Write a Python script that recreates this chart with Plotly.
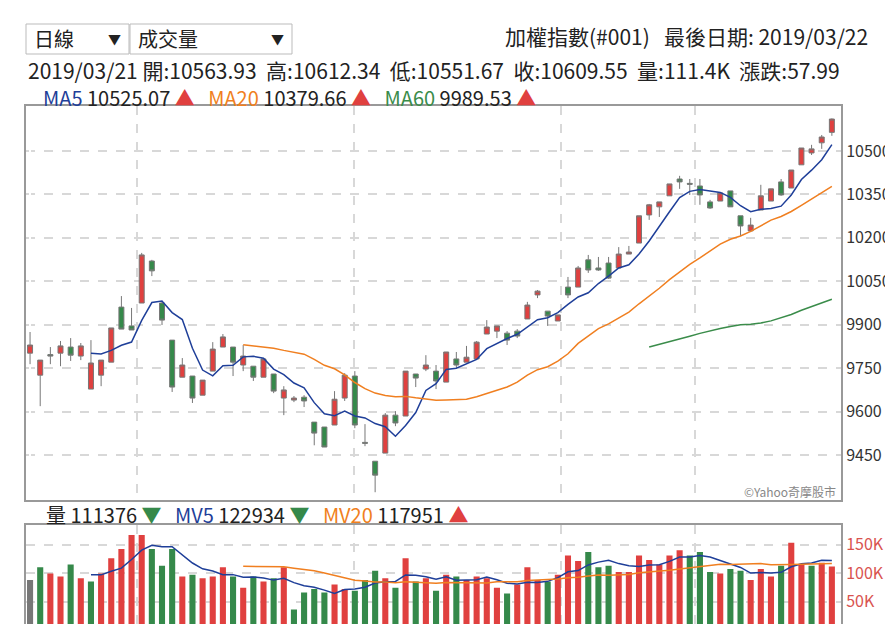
import plotly.graph_objects as go
import pandas as pd

opens = [9802,9726,9797,9802,9823,9792,9678,9726,9771,9961,9896,9975,10120,9975,9847,9719,9723,9657,9740,9823,
         9823,9761,9757,9719,9730,9647,9640,9650,9564,9547,9554,9647,9723,9494,9429,9457,9588,9585,9730,9747,
         9740,9702,9782,9771,9782,9868,9878,9871,9878,9920,10003,9947,9913,10030,10030,10124,10096,10113,10096,10144,
         10182,10279,10307,10345,10403,10388,10379,10324,10327,10362,10276,10224,10296,10327,10393,10372,10452,10493,10528,10564]
highs = [9875,9778,9823,9844,9854,9837,9847,9778,9889,9999,9958,10148,10124,9982,9847,9785,9723,9709,9840,9868,
         9823,9830,9757,9782,9730,9688,9654,9657,9564,9547,9671,9733,9740,9557,9429,9595,9602,9740,9730,9795,
         9761,9806,9806,9827,9844,9916,9896,9878,9885,9979,10020,9947,9934,10065,10103,10141,10134,10134,10168,10172,
         10276,10317,10324,10386,10414,10403,10403,10331,10355,10362,10276,10269,10383,10369,10403,10434,10510,10521,10555,10612]
lows = [9764,9619,9764,9757,9775,9778,9678,9688,9771,9885,9882,9975,10068,9899,9668,9719,9630,9657,9740,9823,
        9723,9740,9706,9719,9664,9588,9633,9616,9484,9478,9554,9637,9543,9481,9322,9457,9550,9585,9685,9740,
        9678,9702,9750,9771,9782,9868,9854,9830,9854,9920,9992,9896,9913,9992,10030,10079,10086,10058,10096,10144,
        10182,10262,10272,10345,10369,10348,10314,10300,10327,10307,10206,10220,10296,10327,10345,10372,10452,10486,10507,10552]
closes = [9830,9778,9792,9827,9795,9827,9768,9778,9889,9885,9882,10141,10086,9916,9685,9761,9647,9709,9816,9858,
          9771,9792,9719,9782,9671,9675,9647,9637,9526,9478,9643,9726,9554,9491,9381,9588,9561,9740,9716,9761,
          9706,9806,9761,9788,9840,9892,9896,9847,9861,9968,10016,9930,9934,10003,10096,10089,10089,10061,10144,10151,
          10276,10314,10324,10386,10393,10385,10348,10303,10355,10307,10241,10244,10345,10369,10348,10434,10510,10507,10548,10610]
volumes_k = [88,110,99,94,115,91,85,99,126,142,167,167,142,113,142,94,97,91,94,110,
             94,74,94,85,91,110,36,66,72,66,80,72,69,88,104,91,74,126,85,91,
             69,97,94,88,94,91,74,64,80,110,88,85,97,131,121,137,110,113,102,102,
             131,123,115,131,140,131,137,102,99,107,104,88,107,94,113,153,115,113,118,111.4]
# volume direction as shown: 0 = first day (no change), 1 = up, -1 = down
vol_dir = [0,-1,1,1,-1,1,-1,1,1,1,1,1,-1,-1,-1,1,-1,1,1,1,
           -1,1,-1,1,-1,1,-1,-1,-1,-1,1,1,-1,-1,-1,1,-1,1,-1,1,
           -1,1,-1,1,1,1,1,-1,1,1,1,-1,1,1,1,-1,-1,-1,1,1,
           1,1,1,1,1,-1,-1,-1,1,-1,-1,1,1,1,-1,1,1,-1,1,1]
month_bounds = [10.5, 31.9, 52.3, 65.5]
price_ticks = [9450, 9600, 9750, 9900, 10050, 10200, 10350, 10500]
vol_ticks = [50000, 100000, 150000]
vol_tick_text = ["50K", "100K", "150K"]

RED, GREEN = "#e0403f", "#35894a"
x = list(range(len(closes)))
cs = pd.Series(closes, dtype=float)
vs = pd.Series([v * 1000 for v in volumes_k])
ma5 = cs.rolling(5).mean(); ma5[:6] = None
ma20 = cs.rolling(20).mean(); ma20[:21] = None
ma60 = cs.rolling(60).mean(); ma60[:61] = None
mv5 = vs.rolling(5).mean(); mv5[:6] = None
mv20 = vs.rolling(20).mean(); mv20[:21] = None
vcol = [{0: "#777777", 1: RED, -1: GREEN}[d] for d in vol_dir]

fig = go.Figure()
fig.add_trace(go.Candlestick(x=x, open=opens, high=highs, low=lows, close=closes,
    increasing=dict(line=dict(color="#777777", width=1), fillcolor=RED),
    decreasing=dict(line=dict(color="#777777", width=1), fillcolor=GREEN),
    whiskerwidth=0, xaxis="x", yaxis="y", showlegend=False))
fig.add_trace(go.Scatter(x=x, y=ma5, mode="lines", line=dict(color="#1f3f99", width=1.5), xaxis="x", yaxis="y"))
fig.add_trace(go.Scatter(x=x, y=ma20, mode="lines", line=dict(color="#f07f20", width=1.5), xaxis="x", yaxis="y"))
fig.add_trace(go.Scatter(x=x, y=ma60, mode="lines", line=dict(color="#3a8c4a", width=1.5), xaxis="x", yaxis="y"))
fig.add_trace(go.Bar(x=x, y=vs, marker=dict(color=vcol, line=dict(width=0)), width=0.6, xaxis="x2", yaxis="y2"))
fig.add_trace(go.Scatter(x=x, y=mv5, mode="lines", line=dict(color="#1f3f99", width=1.5), xaxis="x2", yaxis="y2"))
fig.add_trace(go.Scatter(x=x, y=mv20, mode="lines", line=dict(color="#f07f20", width=1.5), xaxis="x2", yaxis="y2"))

xr = [-0.4, 79.9]
grid = dict(showgrid=True, gridcolor="#d8d8d8", griddash="dash", gridwidth=1.5)
fig.update_layout(
    width=893, height=624, showlegend=False, plot_bgcolor="white", paper_bgcolor="white",
    margin=dict(l=18, r=60, t=98, b=2, autoexpand=False),
    font=dict(family="Noto Sans CJK TC", size=17, color="#222"),
    xaxis=dict(domain=[0, 1], range=xr, tickvals=month_bounds, showticklabels=False, ticks="",
               rangeslider=dict(visible=False), showline=True, mirror=True, linecolor="#999", linewidth=2, **grid),
    yaxis=dict(domain=[0.248, 1], range=[9295, 10655], side="right", tickvals=price_ticks, tickformat="d",
               showline=True, mirror=True, linecolor="#999", linewidth=2, ticks="", zeroline=False,
               tickfont=dict(size=16, color="#333"), **grid),
    xaxis2=dict(domain=[0, 1], range=xr, tickvals=month_bounds, showticklabels=False, ticks="",
                anchor="y2", showline=True, mirror=True, linecolor="#999", linewidth=2, **grid),
    yaxis2=dict(domain=[0, 0.2], range=[0, 184000], side="right", anchor="x2", tickvals=vol_ticks,
                ticktext=vol_tick_text, showline=True, mirror=True, linecolor="#999", linewidth=2,
                ticks="", zeroline=False, tickfont=dict(size=16, color="#d9534f"), **grid),
    bargap=0.4,
)

def txt(x, y, s, anchor="left", size=20, color="#222"):
    fig.add_annotation(xref="paper", yref="paper", x=x, y=y, text=s, showarrow=False,
                       xanchor=anchor, yanchor="middle", font=dict(size=size, color=color))

W, H = 815, 524
def px(xp): return (xp - 18) / W
def py(yp): return (622 - yp) / H

for x0, x1, s in [(18, 121, "日線"), (122, 284, "成交量")]:
    fig.add_shape(type="rect", xref="paper", yref="paper", x0=px(x0), x1=px(x1), y0=py(46), y1=py(16),
                  line=dict(color="#bbb", width=1))
    txt(px(x0 + 6), py(31), s, size=20)
    txt(px(x1 - 6), py(31), "▼", anchor="right", size=13)
txt(px(862), py(28), "加權指數(#001)&nbsp;&nbsp;&nbsp;最後日期: 2019/03/22", anchor="right", size=21)
txt(px(18), py(62), "2019/03/21&nbsp;開:10563.93&nbsp;&nbsp;高:10612.34&nbsp;&nbsp;低:10551.67&nbsp;&nbsp;收:10609.55&nbsp;&nbsp;量:111.4K&nbsp;&nbsp;漲跌:57.99", size=21)
up = f"<span style='color:{RED}'>▲</span>"
dn = f"<span style='color:{GREEN}'>▼</span>"
txt(px(33), py(89), f"<span style='color:#1f3f99'>MA5</span> 10525.07 {up}&nbsp;&nbsp;&nbsp;<span style='color:#f07f20'>MA20</span> 10379.66 {up}&nbsp;&nbsp;&nbsp;<span style='color:#3a8c4a'>MA60</span> 9989.53 {up}", size=20)
txt(px(36), py(506), f"量 111376 {dn}&nbsp;&nbsp;&nbsp;<span style='color:#1f3f99'>MV5</span> 122934 {dn}&nbsp;&nbsp;&nbsp;<span style='color:#f07f20'>MV20</span> 117951 {up}", size=20)
txt(px(830), py(483), "©Yahoo奇摩股市", anchor="right", size=12, color="#888")

fig.write_html("out.html")
